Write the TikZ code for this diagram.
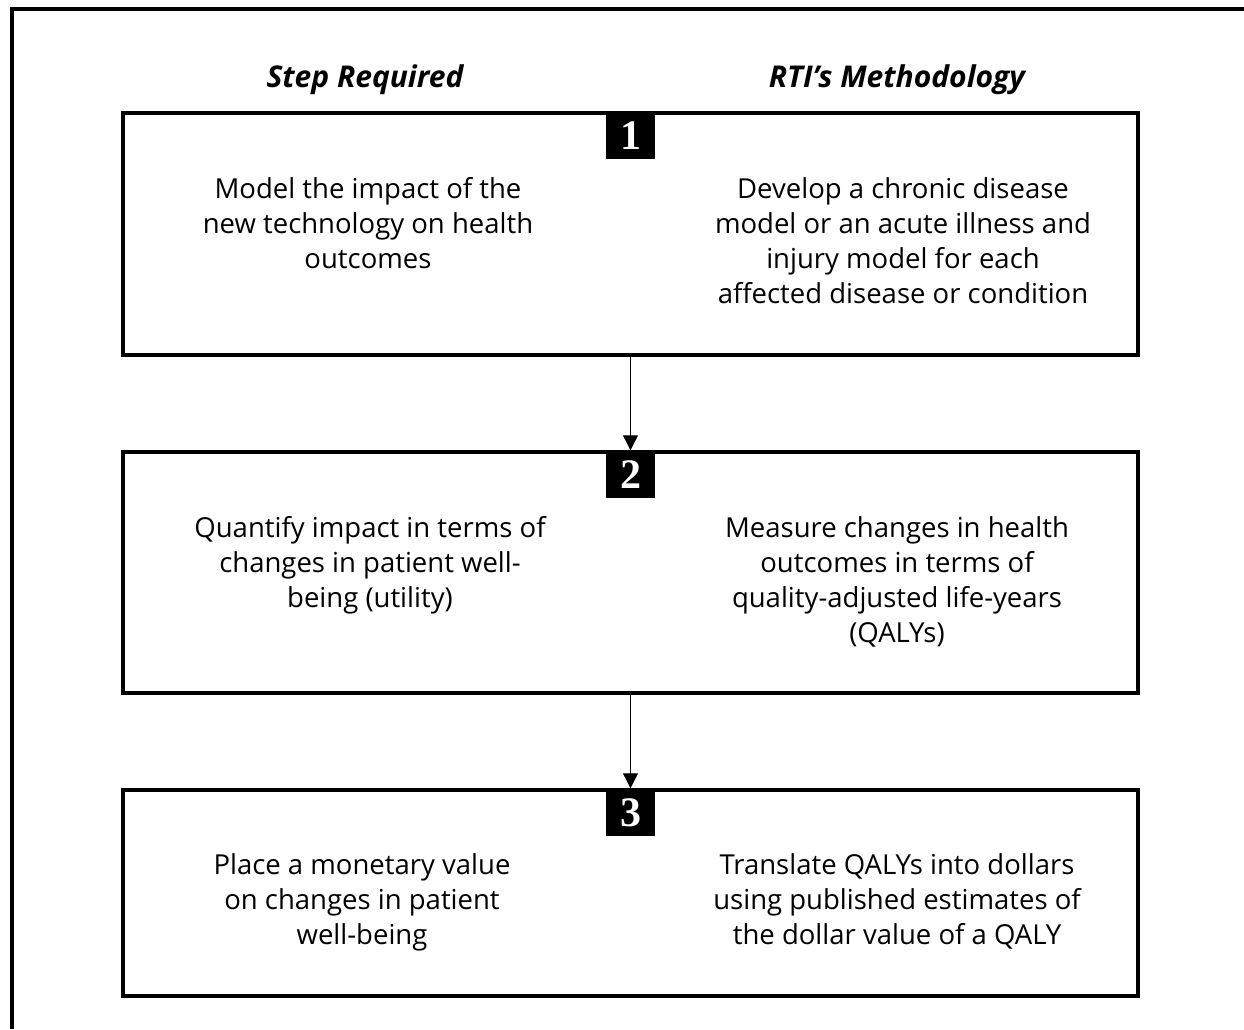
\documentclass[tikz,border=0pt]{standalone}
\usepackage{fontspec}
\setmainfont{Open Sans}
\newfontfamily\numfont{Liberation Serif}
\usetikzlibrary{arrows.meta,positioning}
\tikzset{stepbox/.style={draw, line width=3.5pt, minimum width=1015pt},
	numbox/.style={fill=black, text=white, minimum width=49pt, minimum height=48pt, inner sep=0pt, anchor=north, font=\numfont\bfseries\fontsize{42}{42}\selectfont},
	steptext/.style={align=center, anchor=base, font=\fontsize{27.5}{35}\selectfont},
	header/.style={anchor=base, font=\bfseries\itshape\fontsize{30}{34}\selectfont},
	flow/.style={-{Triangle[width=15pt,length=15pt]}, line width=1.3pt}}

\begin{document}
\begin{tikzpicture}[x=1pt,y=-1pt]
		\useasboundingbox (0,0) rectangle (1244,1029);
		% outer frame, cut at the page edges
		\draw[line width=4pt] (12,1029) -- (12,9) -- (1244,9);
		
		\node[header] (stephead) at (365,87) {Step Required};
		\node[header] (rtihead) at (897,87) {RTI’s Methodology};
		
		\node[stepbox, minimum height=242pt] (box1) at (630.5,234) {};
		\node[stepbox, minimum height=241pt] (box2) at (630.5,572.5) {};
		\node[stepbox, minimum height=206pt] (box3) at (630.5,893) {};
		
		\node[numbox] (num1) at (box1.north) {1};
		\node[numbox] (num2) at (box2.north) {2};
		\node[numbox] (num3) at (box3.north) {3};
		
		% base = baseline of the last line
		\node[steptext] (req1) at (368,268) {Model the impact of the\\new technology on health\\outcomes};
		\node[steptext] (rti1) at (903,303) {Develop a chronic disease\\model or an acute illness and\\injury model for each\\affected disease or condition};
		\node[steptext] (req2) at (370,607) {Quantify impact in terms of\\changes in patient well-\\being (utility)};
		\node[steptext] (rti2) at (897,642) {Measure changes in health\\outcomes in terms of\\quality-adjusted life-years\\(QALYs)};
		\node[steptext] (req3) at (362,944) {Place a monetary value\\on changes in patient\\well-being};
		\node[steptext] (rti3) at (897,944) {Translate QALYs into dollars\\using published estimates of\\the dollar value of a QALY};
		
		\draw[flow] (box1.south) -- (box2.north);
		\draw[flow] (box2.south) -- (box3.north);
		\end{tikzpicture}
\end{document}
